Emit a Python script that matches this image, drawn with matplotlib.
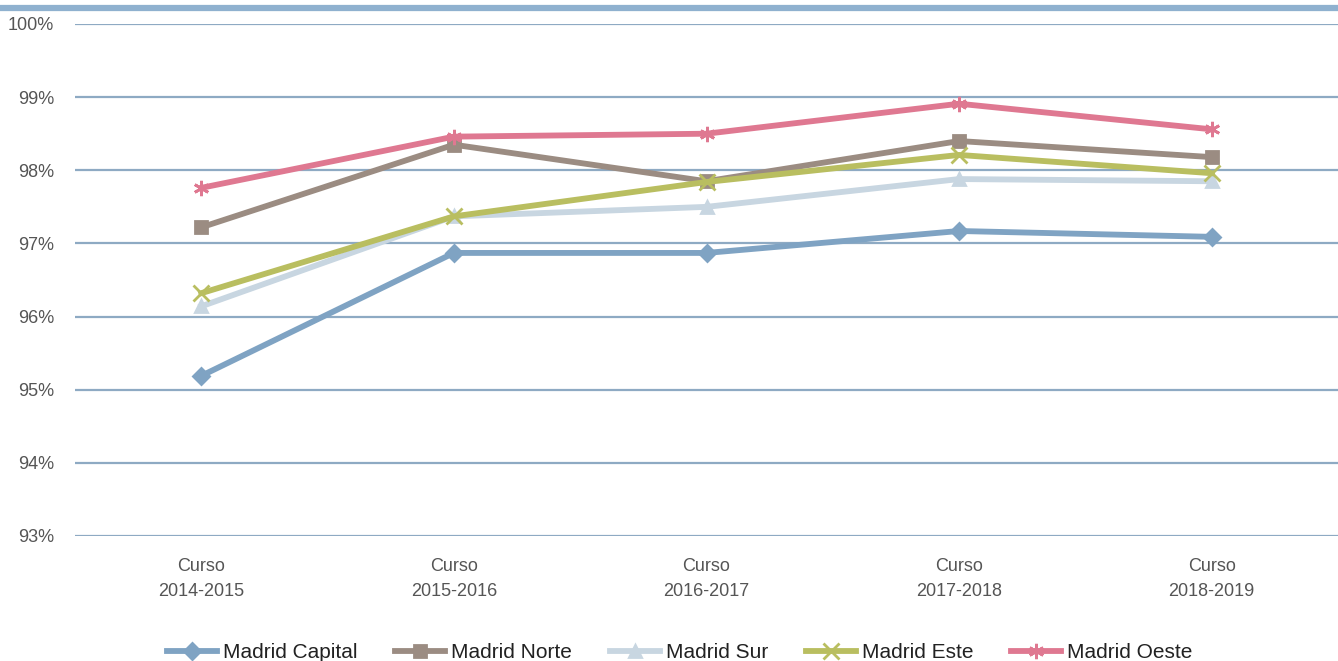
import matplotlib.pyplot as plt
from matplotlib.lines import Line2D
from matplotlib.ticker import FuncFormatter

plt.rcParams['font.family'] = ['Liberation Sans', 'DejaVu Sans']

cursos = ["Curso\n2014-2015", "Curso\n2015-2016", "Curso\n2016-2017", "Curso\n2017-2018", "Curso\n2018-2019"]

capital = [95.19, 96.87, 96.87, 97.17, 97.09]
norte = [97.22, 98.35, 97.85, 98.40, 98.18]
sur = [96.14, 97.37, 97.50, 97.88, 97.85]
este = [96.32, 97.37, 97.84, 98.21, 97.96]
oeste = [97.76, 98.46, 98.50, 98.91, 98.56]

nombres = ["Madrid Capital", "Madrid Norte", "Madrid Sur", "Madrid Este", "Madrid Oeste"]
colores = ["#7fa3c3", "#9b8c82", "#c8d6e1", "#b9be60", "#df7891"]
marcadores = ["D", "s", "^", "x", (6, 2, 0)]

fig = plt.figure(figsize=(13.38, 6.61), dpi=100)
ax = fig.add_axes([75 / 1338, 1 - 536 / 661, 1 - 75 / 1338, (536 - 24) / 661])

x = list(range(len(cursos)))
series = [capital, norte, sur, este, oeste]
for i in range(len(series)):
    ms = 11 if marcadores[i] in ("x", (6, 2, 0)) else 8
    ax.plot(x, series[i], color=colores[i], lw=4.2, marker=marcadores[i], markersize=ms,
            markeredgewidth=2, label=nombres[i], zorder=3 + i)

ax.set_xlim(-0.5, 4.5)
ax.set_ylim(93, 100)
ax.set_yticks(range(93, 101))
ax.yaxis.set_major_formatter(FuncFormatter(lambda v, p: "%d%%" % v))
ax.set_xticks(x)
ax.set_xticklabels(cursos)
ax.grid(axis='y', color='#8eaac3', lw=1.6)
ax.set_axisbelow(True)
for s in ax.spines.values():
    s.set_visible(False)
ax.tick_params(axis='both', length=0, labelsize=13, colors='#555555')
ax.tick_params(axis='y', pad=15)
ax.tick_params(axis='x', pad=16)
for t in ax.get_xticklabels():
    t.set_linespacing(1.6)

fig.add_artist(Line2D([0, 1], [1 - 8 / 661, 1 - 8 / 661], color='#8fb1cf', lw=4.5))

fig.legend(loc='lower center', bbox_to_anchor=(0.508, -0.03), ncol=5, frameon=False,
           fontsize=15, handlelength=2.4, columnspacing=1.8, handletextpad=0.3,
           labelcolor='#222222')

plt.savefig("out.png", dpi=100)
